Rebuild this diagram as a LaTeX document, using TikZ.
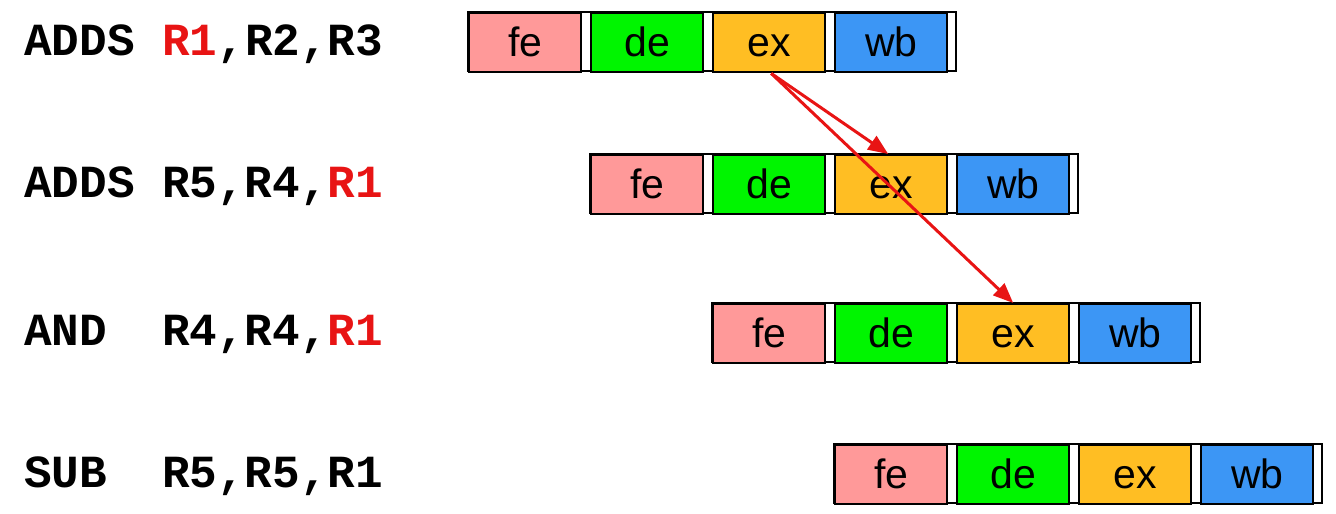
\documentclass[tikz,border=0pt]{standalone}
\usepackage{fontspec}
\setmainfont{Liberation Sans}
\newfontfamily\codefont{Liberation Mono}
\usetikzlibrary{arrows.meta}
\definecolor{fecol}{RGB}{255,153,153}
\definecolor{decol}{RGB}{0,245,0}
\definecolor{excol}{RGB}{255,190,35}
\definecolor{wbcol}{RGB}{60,150,245}
\definecolor{regred}{RGB}{232,20,20}
\begin{document}
\begin{tikzpicture}[x=1pt,y=-1pt,
  stagebox/.style={draw=black, line width=2.4pt, minimum width=112pt, minimum height=59pt,
    inner sep=0pt, text height=27pt, text depth=0pt, anchor=north west,
    font=\fontsize{41}{41}\selectfont},
  frame/.style={draw=black, line width=2.4pt, fill=white},
  code/.style={anchor=base west, inner sep=0pt, font=\codefont\bfseries\fontsize{46}{46}\selectfont},
  dep/.style={draw=regred, line width=3pt, -{Triangle[length=20pt,width=16pt]}}]
\useasboundingbox (0,0) rectangle (1336,514);

\node[code] (t1) at (24,55) {ADDS \textcolor{regred}{R1},R2,R3};
\node[code] (t2) at (24,197) {ADDS R5,R4,\textcolor{regred}{R1}};
\node[code] (t3) at (24,345) {AND\ \ R4,R4,\textcolor{regred}{R1}};
\node[code] (t4) at (24,487) {SUB\ \ R5,R5,R1};

\foreach \r/\x/\y in {1/468/12, 2/590/154, 3/712/303, 4/834/444} {
  \path[frame] (\x,\y) rectangle ++(488,59);
  \node[stagebox, fill=fecol] (fe\r) at (\x,\y) {fe};
  \node[stagebox, fill=decol] (de\r) at (\x+122,\y) {de};
  \node[stagebox, fill=excol] (ex\r) at (\x+244,\y) {ex};
  \node[stagebox, fill=wbcol] (wb\r) at (\x+366,\y) {wb};
}

\draw[dep] ([xshift=2pt]ex1.south) -- ([xshift=-3pt]ex2.north);
\draw[dep] ([xshift=2pt]ex1.south) -- (ex3.north);
\end{tikzpicture}
\end{document}
